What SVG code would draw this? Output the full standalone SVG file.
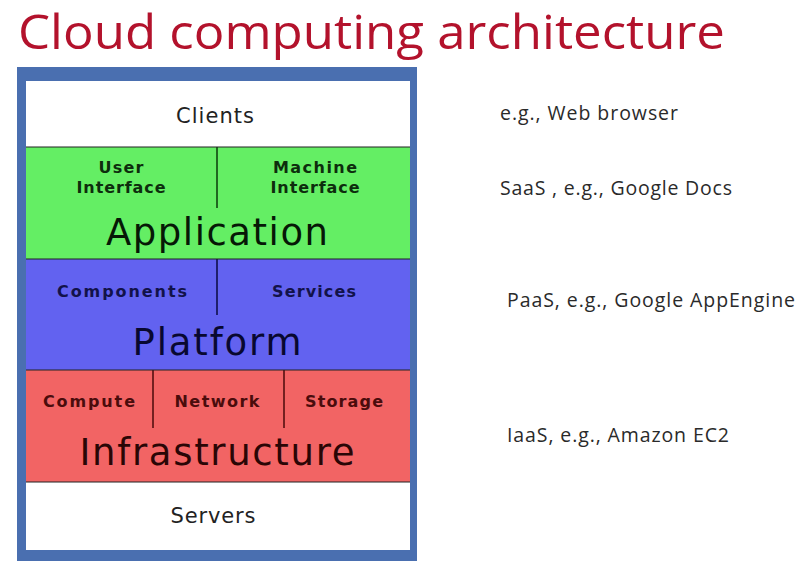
<svg xmlns="http://www.w3.org/2000/svg" width="797" height="561" viewBox="0 0 797 561">
<style>
.title{font-family:"Open Sans","Liberation Sans",sans-serif;font-size:47px;fill:#b3122c}
.cell{font-family:"DejaVu Sans","Liberation Sans",sans-serif;text-anchor:middle}
.sm{font-size:16px;font-weight:bold}
.big{font-size:37px}
.note{font-family:"Open Sans","Liberation Sans",sans-serif;font-size:19.5px;fill:#2a2a2a}
.sep{stroke:#222;stroke-width:1.2}
.div{stroke-width:1.5}
</style>
<rect width="797" height="561" fill="#fff"/>
<text class="title" x="18" y="49" textLength="707" lengthAdjust="spacingAndGlyphs">Cloud computing architecture</text>
<g id="frame">
<rect x="17" y="67" width="400" height="494" fill="#4a6fb0"/>
</g>
<g id="clients">
<rect x="26" y="81" width="384" height="66" fill="#ffffff"/>
<text class="cell" x="215" y="123" font-size="21" fill="#222" textLength="78">Clients</text>
</g>
<g id="application">
<rect x="26" y="147" width="384" height="112" fill="#64ee64"/>
<line class="div" x1="217" y1="147" x2="217" y2="208" stroke="#0a3a0a"/>
<text class="cell sm" x="121" y="173" fill="#0d2d0d" textLength="45">User</text>
<text class="cell sm" x="121" y="193" fill="#0d2d0d" textLength="89">Interface</text>
<text class="cell sm" x="315" y="173" fill="#0d2d0d" textLength="84">Machine</text>
<text class="cell sm" x="315" y="193" fill="#0d2d0d" textLength="89">Interface</text>
<text class="cell big" x="217" y="245" fill="#061806" textLength="222">Application</text>
</g>
<g id="platform">
<rect x="26" y="259" width="384" height="111" fill="#6262f0"/>
<line class="div" x1="217" y1="259" x2="217" y2="315" stroke="#0a0a40"/>
<text class="cell sm" x="122" y="297" fill="#12124a" textLength="130">Components</text>
<text class="cell sm" x="314" y="297" fill="#12124a" textLength="84">Services</text>
<text class="cell big" x="217" y="355" font-size="35" fill="#080830" textLength="169">Platform</text>
</g>
<g id="infrastructure">
<rect x="26" y="370" width="384" height="112" fill="#f26464"/>
<line class="div" x1="153" y1="370" x2="153" y2="428" stroke="#4a0a0a"/>
<line class="div" x1="284" y1="370" x2="284" y2="428" stroke="#4a0a0a"/>
<text class="cell sm" x="89" y="407" fill="#4a0c0c" textLength="92">Compute</text>
<text class="cell sm" x="217" y="407" fill="#4a0c0c" textLength="85">Network</text>
<text class="cell sm" x="344" y="407" fill="#4a0c0c" textLength="78">Storage</text>
<text class="cell big" x="217" y="465" fill="#2a0606" textLength="275">Infrastructure</text>
</g>
<g id="servers">
<rect x="26" y="482" width="384" height="68" fill="#ffffff"/>
<text class="cell" x="213" y="523" font-size="21" fill="#222" textLength="85">Servers</text>
</g>
<g id="connectors">
<line class="sep" x1="26" y1="147" x2="410" y2="147"/>
<line class="sep" x1="26" y1="259" x2="410" y2="259"/>
<line class="sep" x1="26" y1="370" x2="410" y2="370"/>
<line class="sep" x1="26" y1="482" x2="410" y2="482" stroke="#7a8fb0"/>
</g>
<g id="notes">
<text class="note" x="500" y="120" textLength="178">e.g., Web browser</text>
<text class="note" x="500" y="195" textLength="232">SaaS , e.g., Google Docs</text>
<text class="note" x="507" y="307" textLength="288">PaaS, e.g., Google AppEngine</text>
<text class="note" x="507" y="442" textLength="222">IaaS, e.g., Amazon EC2</text>
</g>
</svg>
